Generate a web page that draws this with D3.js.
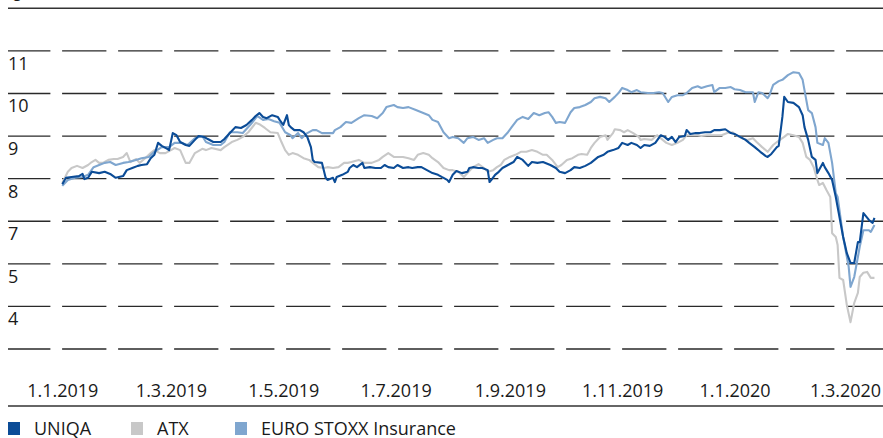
<!DOCTYPE html>
<html>
<head>
<meta charset="utf-8">
<script src="https://d3js.org/d3.v7.min.js"></script>
<style>
  body { margin: 0; background: #fff; }
  text { font-family: "Open Sans", sans-serif; fill: #1a1a1a; }
</style>
</head>
<body>
<script>
// days counted from 1.1.2019, values in EUR (indices rebased to UNIQA)
const uniqaDays = [0,2,5,9,11,12,14,16,20,23,26,29,33,35,38,41,43,46,48,50,52,54,57,58,60,62,64,67,69,72,74,77,79,82,86,88,91,94,97,100,103,105,107,109,111,114,117,118,120,122,123,124,126,129,131,133,135,136,137,141,143,144,147,148,149,152,155,156,158,160,163,164,167,170,173,175,177,180,182,185,188,190,193,195,198,201,204,206,209,210,212,214,217,220,221,223,226,228,231,232,233,235,237,239,242,245,247,250,253,255,258,261,265,268,270,273,276,278,281,284,287,289,291,294,296,299,302,304,307,309,312,314,316,319,322,325,327,329,331,333,335,338,339,341,344,346,349,352,354,357,360,363,365,368,371,373,376,379,382,383,385,388,389,391,392,394,397,400,402,403,405,407,409,410,413,414,416,418,420,421,424,425,426,428,430,432,433,435,438,440,441];
const uniqaValues = [7.87,8.02,8.04,8.06,8.11,7.99,8.02,8.16,8.13,8.16,8.11,8.02,8.06,8.20,8.25,8.30,8.32,8.34,8.48,8.56,8.84,8.77,8.70,8.67,9.07,9.02,8.86,8.79,8.77,8.91,9.00,8.98,8.93,8.86,8.86,8.93,9.07,9.21,9.19,9.26,9.38,9.47,9.54,9.45,9.42,9.49,9.45,9.38,9.26,9.49,9.26,9.21,9.14,9.14,9.09,8.98,8.74,8.44,8.39,8.37,8.02,7.97,8.02,7.92,8.04,8.09,8.16,8.25,8.32,8.27,8.37,8.25,8.27,8.25,8.25,8.32,8.27,8.25,8.32,8.25,8.27,8.25,8.27,8.27,8.20,8.13,8.09,8.04,7.97,7.92,8.09,8.18,8.13,8.16,8.25,8.27,8.25,8.25,8.20,7.92,7.97,8.09,8.16,8.25,8.32,8.39,8.51,8.44,8.30,8.39,8.37,8.39,8.32,8.25,8.16,8.13,8.20,8.27,8.25,8.30,8.37,8.44,8.51,8.56,8.63,8.67,8.72,8.84,8.79,8.84,8.79,8.72,8.79,8.77,8.84,9.02,8.98,8.91,8.98,8.86,8.98,9.00,9.14,9.05,9.07,9.07,9.09,9.09,9.14,9.14,9.16,9.07,9.05,8.98,8.91,8.84,8.74,8.63,8.53,8.51,8.58,8.74,8.77,9.45,9.92,9.80,9.78,9.68,9.49,9.21,8.91,8.51,8.44,8.13,8.37,8.27,8.13,7.97,7.57,7.33,6.63,6.44,6.25,6.02,6.02,6.51,6.51,7.19,7.03,6.96,7.08];

const atxDays = [0,3,5,8,11,14,16,18,20,22,25,28,30,33,35,37,40,42,45,48,50,53,56,59,61,64,67,69,72,76,78,81,86,88,92,95,98,101,105,107,110,113,117,119,121,123,125,128,131,134,136,139,142,144,147,150,153,155,157,161,164,168,172,174,177,180,182,185,188,191,193,196,199,201,204,207,210,212,215,218,220,223,226,229,231,234,236,238,240,243,246,249,252,255,258,261,263,266,269,271,274,277,280,282,285,287,289,292,295,296,299,300,303,305,307,310,313,314,316,320,323,326,328,331,334,337,339,342,345,347,350,353,356,358,361,364,366,369,372,375,377,380,383,386,388,391,392,394,397,400,402,404,406,408,410,411,413,415,417,418,420,421,422,424,426,428,430,432,433,435,437,439,441];
const atxValues = [7.90,8.16,8.25,8.30,8.25,8.32,8.39,8.44,8.37,8.37,8.44,8.46,8.46,8.51,8.60,8.39,8.46,8.37,8.48,8.60,8.67,8.60,8.60,8.67,8.72,8.67,8.37,8.37,8.60,8.70,8.67,8.72,8.67,8.74,8.86,8.91,8.98,9.09,9.31,9.28,9.19,9.09,9.07,8.86,8.67,8.56,8.60,8.56,8.48,8.44,8.37,8.27,8.25,8.27,8.25,8.27,8.37,8.37,8.39,8.44,8.37,8.37,8.44,8.51,8.60,8.51,8.51,8.51,8.48,8.44,8.56,8.60,8.56,8.48,8.39,8.25,8.20,8.20,8.16,8.04,8.13,8.27,8.34,8.25,8.16,8.20,8.27,8.32,8.44,8.51,8.56,8.63,8.63,8.67,8.63,8.56,8.56,8.44,8.27,8.32,8.44,8.48,8.56,8.58,8.56,8.72,8.84,8.98,9.02,8.91,9.07,9.16,9.14,9.09,9.14,9.07,8.98,8.91,8.93,8.91,9.02,8.91,8.84,8.79,8.84,8.91,9.02,9.02,9.02,9.00,9.02,9.02,9.02,9.02,9.07,9.09,9.02,8.95,8.91,8.95,8.86,8.74,8.63,8.79,8.86,8.95,8.98,9.05,9.02,8.98,8.84,8.51,8.44,8.27,7.97,7.85,7.90,7.73,7.57,6.72,6.63,6.44,5.67,5.62,5.03,4.63,5.08,5.32,5.69,5.79,5.81,5.67,5.67];

const stoxxDays = [0,3,7,11,14,17,20,23,26,29,33,36,40,43,47,50,54,58,61,65,68,72,76,78,82,86,88,91,95,98,102,105,106,109,112,115,118,121,124,125,128,130,133,136,138,141,144,147,148,151,154,157,161,164,168,171,174,176,180,182,185,188,192,195,199,201,204,207,210,212,215,218,220,223,226,229,231,234,236,239,242,244,247,250,253,256,259,262,264,266,268,270,273,276,278,281,284,287,289,292,295,297,300,302,304,307,309,312,314,318,321,324,326,329,331,334,337,339,342,345,347,350,353,354,357,360,363,365,368,371,375,376,378,380,383,384,386,389,391,394,397,400,402,403,405,407,409,410,413,414,416,418,420,421,424,425,427,428,430,432,433,435,438,439,441];
const stoxxValues = [7.83,7.97,8.02,8.04,8.09,8.27,8.32,8.37,8.39,8.32,8.37,8.39,8.44,8.48,8.51,8.63,8.74,8.74,8.84,8.84,8.79,8.95,9.00,8.86,8.79,8.79,8.86,9.09,9.09,9.07,9.26,9.42,9.47,9.38,9.40,9.35,9.31,9.09,9.02,8.95,9.07,8.95,9.07,9.14,9.14,9.07,9.07,9.07,9.14,9.21,9.33,9.31,9.42,9.49,9.47,9.42,9.54,9.68,9.73,9.68,9.66,9.68,9.61,9.56,9.49,9.38,9.33,9.09,8.95,8.98,8.95,8.84,8.95,8.98,8.91,8.95,8.84,8.91,8.95,8.95,9.09,9.21,9.38,9.45,9.40,9.54,9.49,9.54,9.56,9.45,9.31,9.33,9.31,9.56,9.66,9.68,9.73,9.80,9.89,9.92,9.89,9.80,9.92,10.01,10.13,10.08,10.03,10.08,10.03,10.01,10.01,10.03,10.01,9.80,9.92,9.96,9.96,10.01,10.13,10.17,10.13,10.17,10.20,10.03,10.13,10.13,10.15,10.10,10.08,10.03,10.03,9.80,10.03,10.01,9.89,9.96,10.20,10.29,10.32,10.43,10.50,10.48,10.32,10.08,9.61,9.54,9.21,8.84,8.79,8.95,8.84,8.37,7.66,7.57,6.63,6.40,5.93,5.46,5.69,6.16,6.40,6.79,6.79,6.75,6.91];

const gridValues = [11, 10, 9, 8, 7, 6, 5, 4];
const yLabelValues = [11, 10, 9, 8, 7, 6, 5];
const yLabels = ["11", "10", "9", "8", "7", "5", "4"];
const xTickDays = [0, 59, 120, 181, 243, 304, 365, 425];
const xTickLabels = ["1.1.2019", "1.3.2019", "1.5.2019", "1.7.2019", "1.9.2019", "1.11.2019", "1.1.2020", "1.3.2020"];
const seriesNames = ["UNIQA", "ATX", "EURO STOXX Insurance"];
const seriesColors = ["#0b4c97", "#c8c8c8", "#7fa6cf"];

const width = 883, height = 438;
const svg = d3.select("body").append("svg")
    .attr("width", width)
    .attr("height", height);

const x = d3.scaleLinear().domain([0, 425]).range([62.3, 845]);
const y = d3.scaleLinear().domain([4, 12]).range([349, 8.3]);

// unit label, mostly cut off at the top
svg.append("text").attr("x", 10).attr("y", 1).style("font-size", "18px").text("€");

// top solid rule
svg.append("line")
    .attr("x1", 8).attr("x2", width)
    .attr("y1", y(12)).attr("y2", y(12))
    .style("stroke", "#333").style("stroke-width", 1.4);

// dashed grid
svg.selectAll(".grid")
    .data(gridValues)
    .enter()
    .append("line")
    .attr("class", "grid")
    .attr("x1", 8).attr("x2", width)
    .attr("y1", d => y(d)).attr("y2", d => y(d))
    .style("stroke", "#2a2a2a")
    .style("stroke-width", 1.3)
    .style("stroke-dasharray", "44.3 11.7")
    .style("stroke-dashoffset", 1.9);

svg.selectAll(".ylab")
    .data(yLabelValues)
    .enter()
    .append("text")
    .attr("class", "ylab")
    .attr("x", 8)
    .attr("y", d => y(d) + 19)
    .style("font-size", "18px")
    .text((d, i) => yLabels[i]);

// x axis labels
const xAxis = d3.axisBottom(x)
    .tickValues(xTickDays)
    .tickSize(0)
    .tickFormat((d, i) => xTickLabels[i]);

const gx = svg.append("g")
    .attr("transform", "translate(0,381)")
    .call(xAxis);
gx.select(".domain").remove();
gx.selectAll("text")
    .style("font-family", "'Open Sans', sans-serif")
    .style("font-size", "18px")
    .style("fill", "#1a1a1a");

svg.append("line")
    .attr("x1", 8).attr("x2", width)
    .attr("y1", 406).attr("y2", 406)
    .style("stroke", "#333").style("stroke-width", 1.4);

// lines
const line = d3.line()
    .x(d => x(d[0]))
    .y(d => y(d[1]));

const series = [
    { days: atxDays, values: atxValues, color: seriesColors[1] },
    { days: stoxxDays, values: stoxxValues, color: seriesColors[2] },
    { days: uniqaDays, values: uniqaValues, color: seriesColors[0] }
];

svg.selectAll(".series")
    .data(series)
    .enter()
    .append("path")
    .attr("class", "series")
    .attr("d", s => line(d3.zip(s.days, s.values)))
    .style("fill", "none")
    .style("stroke", s => s.color)
    .style("stroke-width", 2.1)
    .style("stroke-linejoin", "round");

// legend
const legendX = [8, 131, 235];
const legend = svg.selectAll(".legend")
    .data(seriesNames)
    .enter()
    .append("g")
    .attr("class", "legend")
    .attr("transform", (d, i) => `translate(${legendX[i]},422)`);

legend.append("rect")
    .attr("width", 12).attr("height", 13)
    .style("fill", (d, i) => seriesColors[i]);

legend.append("text")
    .attr("x", 26).attr("y", 13)
    .style("font-size", "18px")
    .text(d => d);
</script>
</body>
</html>
